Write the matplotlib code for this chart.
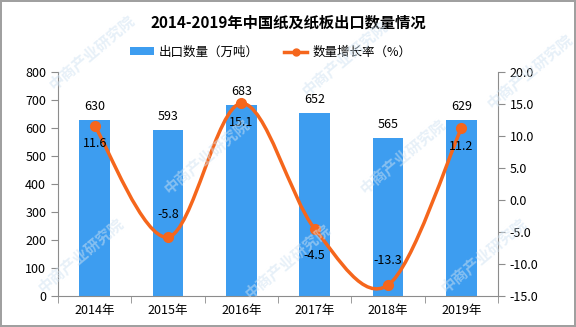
import matplotlib
matplotlib.use("Agg")
import matplotlib.pyplot as plt
from matplotlib.path import Path
from matplotlib.patches import PathPatch
from matplotlib.lines import Line2D
from matplotlib.patches import Patch
import numpy as np

plt.rcParams['font.family'] = ['Noto Sans CJK SC', 'DejaVu Sans']

years = ["2014年", "2015年", "2016年", "2017年", "2018年", "2019年"]
export_volume = [630, 593, 683, 652, 565, 629]          # 万吨
growth_rate = [11.6, -5.8, 15.1, -4.5, -13.3, 11.2]     # %

bar_color = "#3d9df0"
line_color = "#f5661c"
axis_color = "#8c8c8c"

fig = plt.figure(figsize=(5.76, 3.27), dpi=100)
fig.patch.set_edgecolor("#a0a0a0")
fig.patch.set_linewidth(1.5)

ax = fig.add_axes([0.1007, 0.0948, 0.7639, 0.685])
ax2 = ax.twinx()

x = np.arange(len(years))

# faint watermark
for (wx, wy) in [(0.16, 0.84), (0.60, 0.82), (0.92, 0.78), (0.36, 0.52),
                 (0.70, 0.52), (0.14, 0.22), (0.50, 0.20), (0.84, 0.22)]:
    fig.text(wx, wy, "中商产业研究院", rotation=40, fontsize=11, fontweight="bold",
             color="#cfe2f2", alpha=0.5, ha="center", va="center", zorder=10)

ax.bar(x, export_volume, width=0.42, color=bar_color, zorder=2)
for xi, v in zip(x, export_volume):
    ax.text(xi, v + 25, f"{v}", ha="center", va="bottom", fontsize=9, color="black")

ax.set_xlim(-0.5, len(years) - 0.5)
ax.set_ylim(0, 800)
ax.set_yticks(range(0, 801, 100))
ax.set_xticks(x)
ax.set_xticklabels(years)
ax.set_xticks(np.arange(-0.5, len(years), 1.0), minor=True)
ax.tick_params(axis="x", which="major", length=0, labelsize=9, pad=6)
ax.tick_params(axis="x", which="minor", length=5, color=axis_color, direction="out")
ax.tick_params(axis="y", length=5, color=axis_color, labelsize=9, direction="out")

for s in ["top", "right"]:
    ax.spines[s].set_visible(False)
    ax2.spines[s].set_visible(s == "right")
for s in ["left", "bottom"]:
    ax.spines[s].set_color(axis_color)
ax2.spines["left"].set_visible(False)
ax2.spines["bottom"].set_visible(False)
ax2.spines["right"].set_color(axis_color)

ax2.set_ylim(-15, 20)
ax2.set_yticks(np.arange(-15, 20.1, 5))
ax2.set_yticklabels([f"{v:.1f}" for v in np.arange(-15, 20.1, 5)])
ax2.tick_params(axis="y", length=5, color=axis_color, labelsize=9, direction="out")

# smoothed growth line (Catmull-Rom converted to cubic Bezier)
pts = np.column_stack([x, growth_rate]).astype(float)
ext = np.vstack([pts[0], pts, pts[-1]])
verts = [tuple(pts[0])]
codes = [Path.MOVETO]
for i in range(1, len(ext) - 2):
    p0, p1, p2, p3 = ext[i - 1], ext[i], ext[i + 1], ext[i + 2]
    c1 = p1 + (p2 - p0) / 6.0
    c2 = p2 - (p3 - p1) / 6.0
    verts += [tuple(c1), tuple(c2), tuple(p2)]
    codes += [Path.CURVE4] * 3
ax2.add_patch(PathPatch(Path(verts, codes), facecolor="none", edgecolor=line_color,
                        linewidth=2.5, zorder=3))
ax2.plot(x, growth_rate, "o", color=line_color, markersize=7, zorder=4)

label_offsets = [-2.8, 3.5, -3.0, -4.2, 3.8, -2.8]
for xi, v, off in zip(x, growth_rate, label_offsets):
    ax2.text(xi, v + off, f"{v:.1f}", ha="center", va="center", fontsize=9, color="black",
             zorder=5)

fig.text(0.5, 0.93, "2014-2019年中国纸及纸板出口数量情况", ha="center", va="center",
         fontsize=11, fontweight="bold")

handles = [Patch(facecolor=bar_color), Line2D([], [], color=line_color, lw=2.5, marker="o",
                                              markersize=5)]
fig.legend(handles, ["出口数量（万吨）", "数量增长率（%）"], loc="center",
           bbox_to_anchor=(0.47, 0.84), ncol=2, frameon=False, fontsize=9,
           handlelength=1.9, handleheight=0.6, columnspacing=2.0, handletextpad=0.4)

fig.savefig("out.png", dpi=100)
